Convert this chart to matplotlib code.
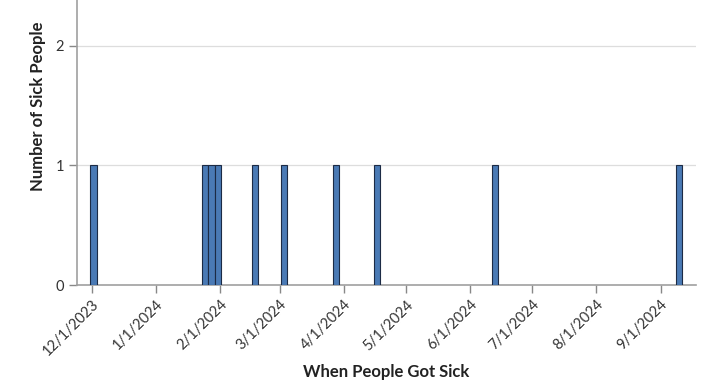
import matplotlib
matplotlib.use("Agg")
import matplotlib.pyplot as plt
import pandas as pd

# onset dates of each case (one bar per date)
onset_dates = ["2023-12-02", "2024-01-25", "2024-01-28", "2024-01-31", "2024-02-18",
               "2024-03-03", "2024-03-28", "2024-04-17", "2024-06-13", "2024-09-10"]
case_counts = [1, 1, 1, 1, 1, 1, 1, 1, 1, 1]
tick_dates = ["2023-12-01", "2024-01-01", "2024-02-01", "2024-03-01", "2024-04-01",
              "2024-05-01", "2024-06-01", "2024-07-01", "2024-08-01", "2024-09-01"]
tick_labels = ["12/1/2023", "1/1/2024", "2/1/2024", "3/1/2024", "4/1/2024",
               "5/1/2024", "6/1/2024", "7/1/2024", "8/1/2024", "9/1/2024"]

plt.rcParams['font.family'] = ['Lato', 'DejaVu Sans']

fig = plt.figure(figsize=(7.24, 3.91), dpi=100)
ax = fig.add_axes([0.1064, 0.271, 0.8546, 0.729])

x = pd.to_datetime(onset_dates)
ax.bar(x, case_counts, width=3.0, color="#4a7ab5", edgecolor="#1c2b45", linewidth=0.8, zorder=3)

ax.set_xlim(pd.Timestamp("2023-11-24"), pd.Timestamp("2024-09-18"))
ax.set_ylim(0, 2.38)
ax.set_yticks([0, 1, 2])
ax.yaxis.grid(True, color="#dddddd", linewidth=0.9, zorder=0)

ax.set_xticks(pd.to_datetime(tick_dates))
ax.set_xticklabels(tick_labels, rotation=45, ha="right", rotation_mode="anchor")

for s in ["top", "right"]:
    ax.spines[s].set_visible(False)
for s in ["left", "bottom"]:
    ax.spines[s].set_color("#a0a0a0")
    ax.spines[s].set_linewidth(1.2)
ax.tick_params(axis="both", colors="#888888", length=6, width=1, labelsize=10.5, labelcolor="#333333")
ax.tick_params(axis="x", pad=3)

ax.set_xlabel("When People Got Sick", fontsize=12, fontweight="bold", color="#222222")
ax.set_ylabel("Number of Sick People", fontsize=12, fontweight="bold", color="#222222")
ax.xaxis.set_label_coords(0.499, -0.276)
ax.yaxis.set_label_coords(-0.050, 0.628)

fig.savefig("out.png", dpi=100)
